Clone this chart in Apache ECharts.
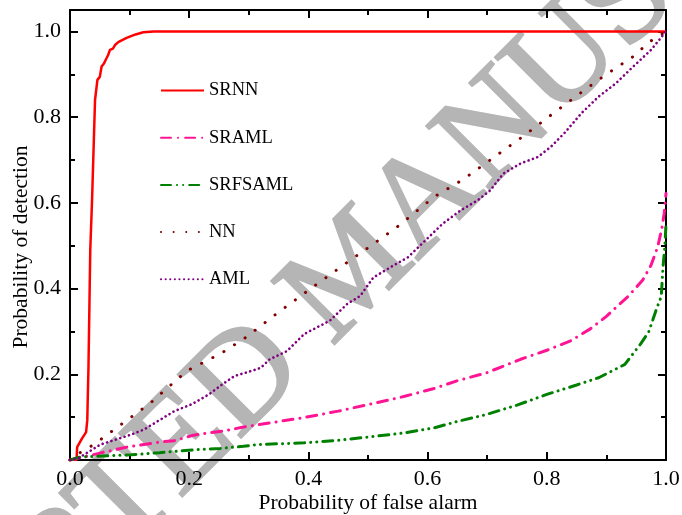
<!DOCTYPE html>
<html>
<head>
<meta charset="utf-8">
<script src="https://cdn.jsdelivr.net/npm/echarts@6/dist/echarts.min.js"></script>
<style>
  html, body { margin: 0; padding: 0; background: #fff; }
  #chart { width: 682px; height: 515px; }
</style>
</head>
<body>
<div id="chart"></div>
<script>
// ROC curves
const srnnX = [0, 0.011, 0.012, 0.02, 0.027, 0.029, 0.031, 0.034, 0.037, 0.042, 0.046, 0.05, 0.053, 0.057, 0.06, 0.064, 0.067, 0.072, 0.076, 0.081, 0.085, 0.095, 0.11, 0.123, 0.14, 1.0]
const srnnY = [0, 0, 0.03, 0.05, 0.065, 0.093, 0.217, 0.49, 0.606, 0.84, 0.887, 0.894, 0.918, 0.925, 0.934, 0.945, 0.957, 0.96, 0.969, 0.975, 0.978, 0.985, 0.993, 0.998, 1.0, 1.0]

const sramlX = [0, 0.02, 0.05, 0.095, 0.151, 0.175, 0.207, 0.263, 0.291, 0.314, 0.393, 0.45, 0.509, 0.56, 0.611, 0.65, 0.698, 0.756, 0.8, 0.84, 0.873, 0.9, 0.916, 0.936, 0.961, 0.975, 0.986, 0.993, 0.997, 1.0]
const sramlY = [0, 0.006, 0.016, 0.03, 0.042, 0.045, 0.058, 0.069, 0.077, 0.082, 0.099, 0.114, 0.132, 0.148, 0.167, 0.185, 0.203, 0.235, 0.256, 0.278, 0.306, 0.335, 0.356, 0.381, 0.42, 0.455, 0.497, 0.54, 0.576, 0.622]

const srfsamlX = [0, 0.017, 0.067, 0.102, 0.15, 0.211, 0.252, 0.291, 0.314, 0.393, 0.45, 0.509, 0.56, 0.611, 0.65, 0.698, 0.75, 0.8, 0.85, 0.887, 0.931, 0.958, 0.971, 0.985, 0.992, 0.995, 0.998, 1.0]
const srfsamlY = [0, 0.007, 0.01, 0.012, 0.017, 0.024, 0.027, 0.032, 0.036, 0.04, 0.046, 0.055, 0.063, 0.075, 0.09, 0.106, 0.128, 0.153, 0.175, 0.192, 0.223, 0.272, 0.299, 0.356, 0.381, 0.45, 0.497, 0.55]

const nnX = [0, 0.02, 0.04, 0.08, 0.135, 0.196, 0.255, 0.295, 0.349, 0.407, 0.465, 0.505, 0.55, 0.611, 0.66, 0.72, 0.76, 0.811, 0.86, 0.9, 0.949, 0.969, 0.989, 1.0]
const nnY = [0, 0.02, 0.036, 0.077, 0.133, 0.208, 0.25, 0.286, 0.344, 0.403, 0.461, 0.5, 0.545, 0.614, 0.655, 0.715, 0.755, 0.809, 0.86, 0.9, 0.945, 0.973, 0.99, 1.0]

const amlX = [0, 0.015, 0.051, 0.102, 0.124, 0.175, 0.204, 0.233, 0.255, 0.276, 0.305, 0.32, 0.335, 0.364, 0.393, 0.436, 0.465, 0.487, 0.509, 0.538, 0.567, 0.596, 0.625, 0.655, 0.684, 0.705, 0.727, 0.756, 0.785, 0.807, 0.829, 0.858, 0.887, 0.916, 0.945, 0.975, 1.0]
const amlY = [0, 0.005, 0.036, 0.059, 0.071, 0.114, 0.13, 0.153, 0.176, 0.196, 0.208, 0.215, 0.235, 0.254, 0.294, 0.325, 0.364, 0.383, 0.426, 0.45, 0.473, 0.512, 0.551, 0.582, 0.606, 0.629, 0.668, 0.692, 0.707, 0.731, 0.762, 0.809, 0.848, 0.879, 0.918, 0.957, 1.0]

const seriesNames = ['SRNN', 'SRAML', 'SRFSAML', 'NN', 'AML']
const xTicks = [0, 0.2, 0.4, 0.6, 0.8, 1.0]
const yTicks = [0.2, 0.4, 0.6, 0.8, 1.0]

const pairs = (xs, ys) => xs.map((x, i) => [x, ys[i]])
const near = (v, list) => list.some(t => Math.abs(t - v) < 1e-6)

const font = 'Liberation Serif'

const axisBase = {
  type: 'value',
  axisLine: { show: true, onZero: false, lineStyle: { color: '#000', width: 2 } },
  axisTick: { show: true, inside: true, length: 8, lineStyle: { color: '#000', width: 2 } },
  minorTick: { show: true, splitNumber: 2, length: 5, lineStyle: { color: '#000', width: 2 } },
  splitLine: { show: false },
}

const chart = echarts.init(document.getElementById('chart'))
chart.setOption({
  animation: false,
  backgroundColor: '#fff',
  grid: { left: 70, right: 16, top: 10, bottom: 55, outerBoundsMode: 'none', containLabel: false },
  graphic: [
    {
      type: 'text',
      x: 356,
      y: 272,
      rotation: Math.PI / 4,
      z: -10,
      silent: true,
      style: {
        text: 'ACCEPTED MANUSCRIPT',
        font: '136px "Liberation Serif"',
        fill: '#b5b5b5',
        stroke: '#b5b5b5',
        lineWidth: 2.5,
        align: 'center',
        verticalAlign: 'middle',
      },
    },
  ],
  legend: {
    orient: 'vertical',
    left: 155,
    top: 76,
    itemWidth: 43,
    itemHeight: 14,
    itemGap: 28.2,
    data: seriesNames,
    itemStyle: { color: 'transparent', borderColor: 'transparent', borderWidth: 0 },
    textStyle: { fontFamily: font, fontSize: 18.5, color: '#000' },
  },
  xAxis: [
    {
      ...axisBase,
      min: 0,
      max: 1,
      interval: 0.2,
      name: 'Probability of false alarm',
      nameLocation: 'middle',
      nameGap: 32,
      nameMoveOverlap: false,
      nameTextStyle: { fontFamily: font, fontSize: 21.5, color: '#000' },
      axisLabel: {
        margin: 8,
        fontFamily: font,
        fontSize: 22,
        color: '#000',
        formatter: v => (near(v, xTicks) ? v.toFixed(1) : ''),
      },
    },
    {
      ...axisBase,
      position: 'top',
      min: 0,
      max: 1,
      interval: 0.2,
      axisLabel: { show: false },
    },
  ],
  yAxis: [
    {
      ...axisBase,
      min: 0,
      max: 1.05,
      interval: 0.2,
      name: 'Probability of detection',
      nameLocation: 'middle',
      nameGap: 38,
      nameMoveOverlap: false,
      nameTextStyle: { fontFamily: font, fontSize: 21.5, color: '#000', padding: [0, 24, 0, 0] },
      axisLabel: {
        margin: 9,
        fontFamily: font,
        fontSize: 22,
        color: '#000',
        formatter: v => (near(v, yTicks) ? v.toFixed(1) : ''),
      },
    },
    {
      ...axisBase,
      position: 'right',
      min: 0,
      max: 1.05,
      interval: 0.2,
      axisLabel: { show: false },
    },
  ],
  series: [
    {
      name: 'SRNN',
      type: 'line',
      symbol: 'none',
      data: pairs(srnnX, srnnY),
      lineStyle: { color: '#ff0000', width: 2.5 },
      itemStyle: { color: '#ff0000' },
    },
    {
      name: 'SRAML',
      type: 'line',
      symbol: 'none',
      data: pairs(sramlX, sramlY),
      lineStyle: { color: '#ff1493', width: 3, type: [10, 7, 0.1, 7], cap: 'round' },
      itemStyle: { color: '#ff1493' },
    },
    {
      name: 'SRFSAML',
      type: 'line',
      symbol: 'none',
      data: pairs(srfsamlX, srfsamlY),
      lineStyle: { color: '#008000', width: 3, type: [10, 6, 0.1, 6, 0.1, 6], cap: 'round' },
      itemStyle: { color: '#008000' },
    },
    {
      name: 'NN',
      type: 'line',
      symbol: 'none',
      data: pairs(nnX, nnY),
      lineStyle: { color: '#800000', width: 3, type: [0.1, 12.5], cap: 'round' },
      itemStyle: { color: '#800000' },
    },
    {
      name: 'AML',
      type: 'line',
      symbol: 'none',
      data: pairs(amlX, amlY),
      lineStyle: { color: '#800080', width: 2.6, type: [0.1, 4.5], cap: 'round' },
      itemStyle: { color: '#800080' },
    },
  ],
})
</script>
</body>
</html>
